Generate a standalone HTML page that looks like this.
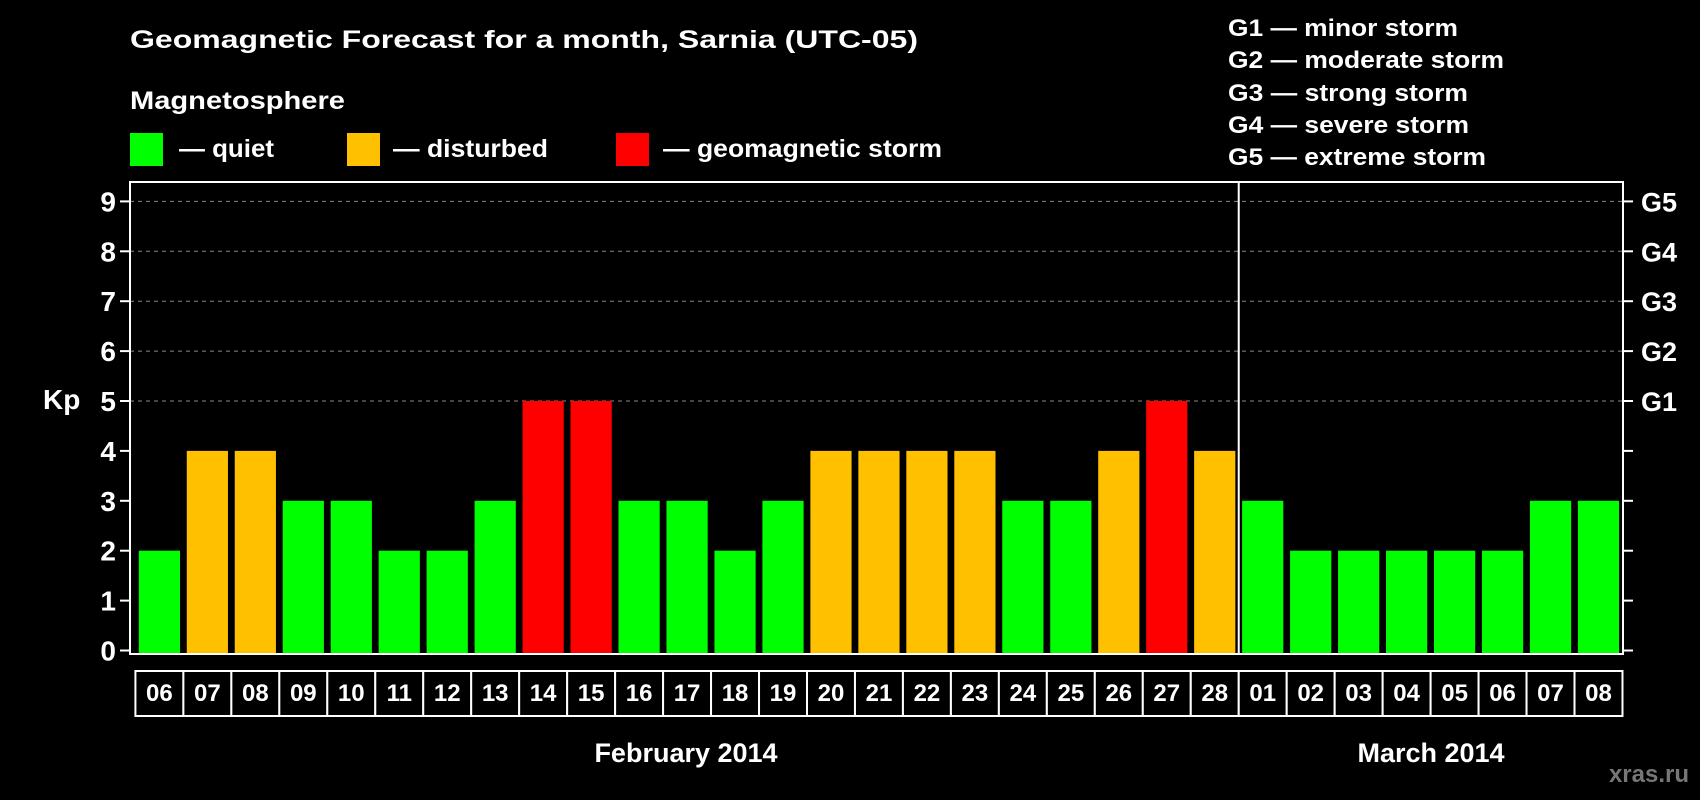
<!DOCTYPE html>
<html><head><meta charset="utf-8"><style>
html,body{margin:0;padding:0;background:#000;width:1700px;height:800px;overflow:hidden}
svg text{font-family:"Liberation Sans",Arial,sans-serif;font-weight:bold;fill:#fff}
</style></head><body>
<svg id="chart" width="1700" height="800" viewBox="0 0 1700 800">
<rect width="1700" height="800" fill="#000"/>
<text x="130" y="48" font-size="25" textLength="788" lengthAdjust="spacingAndGlyphs">Geomagnetic Forecast for a month, Sarnia (UTC-05)</text>
<text x="130" y="109" font-size="25" textLength="215" lengthAdjust="spacingAndGlyphs">Magnetosphere</text>
<rect x="130" y="133" width="33" height="33" fill="#00ff00"/>
<text x="179" y="157" font-size="25" textLength="95" lengthAdjust="spacingAndGlyphs">— quiet</text>
<rect x="347" y="133" width="33" height="33" fill="#ffc000"/>
<text x="393" y="157" font-size="25" textLength="155" lengthAdjust="spacingAndGlyphs">— disturbed</text>
<rect x="616" y="133" width="33" height="33" fill="#ff0000"/>
<text x="663" y="157" font-size="25" textLength="279" lengthAdjust="spacingAndGlyphs">— geomagnetic storm</text>
<g font-size="24">
<text x="1228" y="36" textLength="230" lengthAdjust="spacingAndGlyphs">G1 — minor storm</text>
<text x="1228" y="68" textLength="276" lengthAdjust="spacingAndGlyphs">G2 — moderate storm</text>
<text x="1228" y="101" textLength="240" lengthAdjust="spacingAndGlyphs">G3 — strong storm</text>
<text x="1228" y="133" textLength="241" lengthAdjust="spacingAndGlyphs">G4 — severe storm</text>
<text x="1228" y="165" textLength="258" lengthAdjust="spacingAndGlyphs">G5 — extreme storm</text>
</g>
<text x="43" y="409" font-size="28">Kp</text>
<text x="686" y="762" font-size="27" text-anchor="middle">February 2014</text>
<text x="1431" y="762" font-size="27" text-anchor="middle">March 2014</text>
<text x="1689" y="782" font-size="24" text-anchor="end" style="fill:#777">xras.ru</text>
<g id="plot"></g>
</svg>
<script>
const days = ["06","07","08","09","10","11","12","13","14","15","16","17","18","19","20","21","22","23","24","25","26","27","28","01","02","03","04","05","06","07","08"];
const kpValues = [2,4,4,3,3,2,2,3,5,5,3,3,2,3,4,4,4,4,3,3,4,5,4,3,2,2,2,2,2,3,3];
const yTicks = [0,1,2,3,4,5,6,7,8,9];
const gLabels = ["G1","G2","G3","G4","G5"];
const gLevels = [5,6,7,8,9];
const marchStartIndex = 23;

const NS = "http://www.w3.org/2000/svg";
const plot = document.getElementById("plot");
const L = 130, R = 1623, T = 182, B = 654;
const y0 = 650.5, unit = 49.9;
const firstBar = 138.8, pitch = 47.97, barW = 41.2;
function yScale(v){ return y0 - v*unit; }
function xSlot(i){ return firstBar + i*pitch; }
function mk(tag, attrs){ const e = document.createElementNS(NS, tag); for (const k in attrs) e.setAttribute(k, attrs[k]); plot.appendChild(e); return e; }
function color(v){ return v >= 5 ? "#ff0000" : (v >= 4 ? "#ffc000" : "#00ff00"); }

// grid lines
gLevels.forEach(function(v){
  const g = mk("line", {x1:L, x2:R, y1:yScale(v), y2:yScale(v), stroke:"#888", "stroke-width":1, "stroke-dasharray":"4,4"});
  
  
});
// bars
kpValues.forEach(function(v, i){
  const b = mk("rect", {x:xSlot(i), y:yScale(v), width:barW, height:B - yScale(v), fill:color(v)});
  
  
});
// frame
const fr = mk("rect", {x:L, y:T, width:R-L, height:B-T, fill:"none", stroke:"#fff", "stroke-width":2});


const sepX = xSlot(marchStartIndex) - (pitch - barW)/2;
const sep = mk("line", {x1:sepX, x2:sepX, y1:T, y2:B, stroke:"#fff", "stroke-width":2});


// y ticks
yTicks.forEach(function(v){
  const y = yScale(v);
  const t1 = mk("line", {x1:L-10, x2:L, y1:y, y2:y, stroke:"#fff", "stroke-width":2});
  
  
  const t2 = mk("line", {x1:R, x2:R+10, y1:y, y2:y, stroke:"#fff", "stroke-width":2});
  
  
  const lb = mk("text", {x:116, y:y+10, "font-size":28, "text-anchor":"end"});
  lb.textContent = yTicks[v];
  
  
});
gLevels.forEach(function(v, i){
  const lb = mk("text", {x:1641, y:yScale(v)+10, "font-size":27});
  lb.textContent = gLabels[i];
  
  
});
// date boxes
days.forEach(function(d, i){
  const bx = xSlot(i) - (pitch - barW)/2;
  const r = mk("rect", {x:bx, y:671, width:pitch, height:45, fill:"#000", stroke:"#fff", "stroke-width":2});
  
  
  const t = mk("text", {x:bx + pitch/2, y:701, "font-size":24, "text-anchor":"middle"});
  t.textContent = d;
  
  
});
</script>
</body></html>
